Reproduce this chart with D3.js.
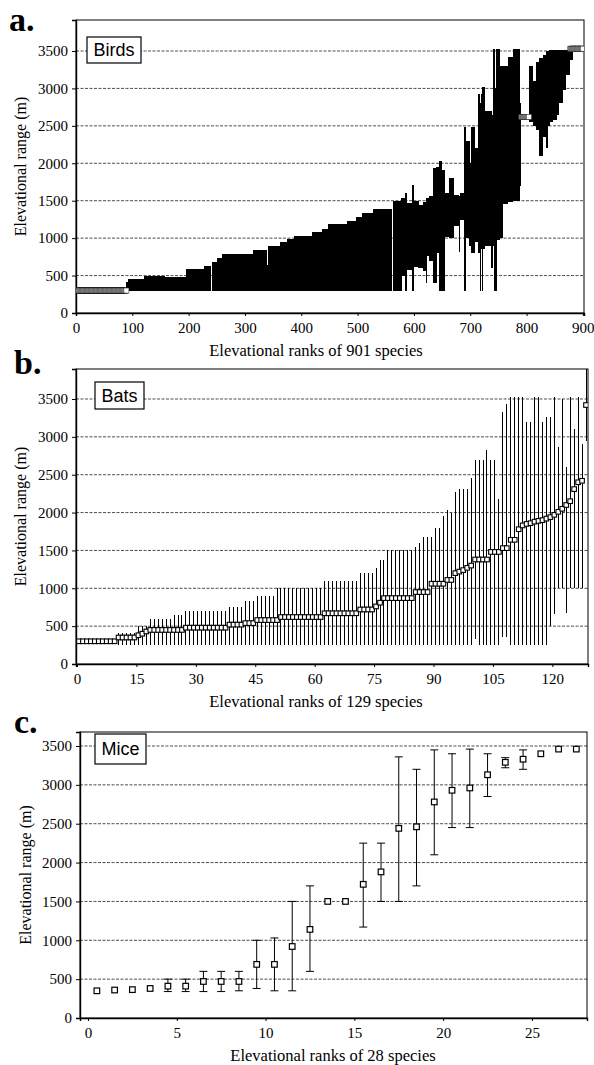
<!DOCTYPE html>
<html>
<head>
<meta charset="utf-8">
<script src="https://cdn.jsdelivr.net/npm/d3@7"></script>
<style>
  body { margin: 0; background: #fff; }
  svg text { font-family: "Liberation Serif", "Times New Roman", serif; }
  svg text.boxlabel { font-family: "Liberation Sans", Arial, sans-serif; }
</style>
</head>
<body>
<svg></svg>
<script>
// shared axis values
const yTicks = [0, 500, 1000, 1500, 2000, 2500, 3000, 3500];
const birdTicks = [0, 100, 200, 300, 400, 500, 600, 700, 800, 900];
const batTicks = [0, 15, 30, 45, 60, 75, 90, 105, 120];
const mouseTicks = [0, 5, 10, 15, 20, 25];

const birdRuns = [
    [91, 92, 300, 420], [93, 121, 290, 450], [122, 157, 290, 500], [158, 196, 290, 480],
    [197, 228, 290, 590], [229, 239, 290, 625], [242, 251, 290, 675], [252, 259, 290, 740],
    [260, 314, 290, 787], [315, 338, 290, 845], [339, 341, 290, 640], [342, 361, 290, 890],
    [364, 375, 290, 942], [376, 388, 290, 990], [389, 418, 290, 1035], [421, 438, 290, 1080],
    [439, 447, 290, 1125], [448, 481, 290, 1185], [482, 496, 290, 1230], [499, 509, 290, 1280],
    [510, 527, 290, 1335], [528, 561, 290, 1390], [564, 578, 290, 1490], [579, 584, 490, 1530],
    [585, 587, 290, 1600], [588, 597, 580, 1470], [598, 600, 290, 1710], [601, 608, 620, 1500],
    [609, 616, 600, 1440], [617, 621, 560, 1480], [622, 623, 400, 1530], [624, 628, 760, 1530],
    [629, 634, 700, 1560], [635, 640, 400, 1940], [641, 645, 800, 1950], [646, 650, 290, 2030],
    [651, 655, 290, 1910], [656, 663, 1020, 1600], [664, 670, 1000, 1800], [671, 680, 1160, 1580],
    [681, 682, 820, 1560], [683, 689, 1240, 1600], [690, 692, 290, 2490], [693, 699, 1000, 2300],
    [700, 702, 900, 2000], [703, 708, 800, 2480], [709, 714, 950, 2200], [715, 717, 800, 2930],
    [718, 719, 290, 2800], [720, 721, 850, 2930], [722, 723, 290, 3020], [724, 726, 850, 3020],
    [727, 738, 890, 2700], [739, 740, 600, 2650], [741, 743, 900, 3530], [744, 747, 290, 3000],
    [748, 752, 980, 3530], [753, 757, 1000, 3300], [758, 767, 1450, 3300], [768, 776, 1480, 3420],
    [777, 788, 1500, 3530], [789, 790, 1700, 2800], [791, 805, 2580, 2660], [806, 811, 2550, 3300],
    [812, 817, 2500, 3100], [818, 823, 2450, 3350], [824, 829, 2100, 3400], [830, 835, 2350, 3450],
    [836, 837, 2200, 3500], [838, 841, 2500, 3500], [842, 847, 2550, 3510], [848, 853, 2580, 3510],
    [854, 858, 2650, 3510], [859, 864, 2800, 3510], [865, 870, 2980, 3510], [871, 876, 3180, 3510],
    [877, 882, 3380, 3520]
];
// birds: where the square markers show [firstRank, lastRank, value]
const birdMarks = [[1, 90, 300], [791, 805, 2620], [878, 901, 3530]];

// bats, 129 species in rank order
const batMean = [
    300, 300, 300, 300, 300, 300, 300, 300, 300, 300,
    350, 350, 350, 350, 350, 380, 400, 430, 450, 450,
    450, 450, 450, 450, 450, 450, 450, 480, 480, 480,
    480, 480, 480, 480, 480, 480, 480, 480, 520, 520,
    520, 520, 540, 540, 540, 580, 580, 580, 580, 580,
    580, 620, 620, 620, 620, 620, 620, 620, 620, 620,
    620, 620, 670, 670, 670, 670, 670, 670, 670, 670,
    670, 720, 720, 720, 720, 760, 810, 870, 870, 870,
    870, 870, 870, 870, 870, 950, 950, 950, 950, 1060,
    1060, 1060, 1060, 1110, 1110, 1200, 1220, 1240, 1270, 1300,
    1380, 1380, 1380, 1380, 1480, 1480, 1480, 1530, 1530, 1640,
    1640, 1780, 1830, 1850, 1860, 1880, 1890, 1900, 1920, 1940,
    1970, 2010, 2050, 2100, 2150, 2310, 2400, 2420, 3420
];
const batLow = [
    300, 300, 300, 300, 300, 300, 300, 300, 300, 300,
    250, 250, 250, 250, 250, 250, 250, 250, 250, 250,
    250, 250, 250, 250, 250, 250, 250, 250, 250, 250,
    250, 250, 250, 250, 250, 250, 250, 250, 250, 250,
    250, 250, 250, 250, 250, 250, 250, 250, 250, 250,
    250, 250, 250, 250, 250, 250, 250, 250, 250, 250,
    250, 250, 250, 250, 250, 250, 250, 250, 250, 250,
    250, 250, 250, 250, 250, 250, 250, 250, 250, 250,
    250, 250, 250, 250, 250, 250, 250, 250, 250, 250,
    250, 250, 250, 250, 250, 250, 250, 250, 250, 250,
    330, 250, 250, 250, 250, 250, 250, 350, 350, 250,
    250, 250, 250, 250, 250, 250, 250, 250, 250, 500,
    660, 1000, 1000, 670, 1000, 1000, 1000, 1000, 2950
];
const batHigh = [
    300, 300, 300, 300, 300, 300, 300, 300, 300, 300,
    410, 410, 410, 410, 410, 500, 500, 500, 600, 600,
    600, 600, 600, 600, 650, 650, 650, 700, 700, 700,
    700, 700, 700, 700, 700, 700, 700, 700, 750, 750,
    750, 750, 830, 830, 830, 900, 900, 900, 900, 900,
    1000, 1000, 1000, 1000, 1000, 1000, 1000, 1000, 1000, 1000,
    1000, 1000, 1100, 1100, 1100, 1100, 1100, 1100, 1100, 1100,
    1100, 1200, 1200, 1200, 1200, 1270, 1380, 1380, 1500, 1500,
    1500, 1500, 1500, 1500, 1500, 1550, 1600, 1680, 1680, 1680,
    1800, 1800, 1950, 2040, 2000, 2270, 2310, 2310, 2310, 2460,
    2700, 2700, 2700, 2820, 2700, 2700, 2180, 3330, 3430, 3530,
    3530, 3530, 3530, 3200, 3200, 3530, 3530, 3200, 3260, 3260,
    3530, 2870, 3500, 2600, 3530, 3100, 3530, 2900, 3900
];

// mice, 28 species in rank order
const mouseMean = [350, 360, 365, 380, 410, 410, 470, 470, 470, 690, 690, 920, 1140, 1500,
    1500, 1720, 1880, 2440, 2460, 2780, 2930, 2960, 3130, 3290, 3330, 3400, 3460, 3460];
const mouseLow = [350, 360, 365, 380, 340, 340, 340, 340, 350, 380, 350, 350, 600, 1500,
    1500, 1170, 1500, 1500, 1700, 2100, 2450, 2450, 2850, 3220, 3200, 3400, 3460, 3460];
const mouseHigh = [350, 360, 365, 380, 500, 500, 600, 600, 600, 1000, 1030, 1500, 1700, 1500,
    1500, 2250, 2250, 3360, 3200, 3450, 3400, 3460, 3400, 3350, 3450, 3400, 3460, 3460];

const svg = d3.select("svg").attr("width", 594).attr("height", 1065);
svg.append("rect").attr("width", 594).attr("height", 1065).attr("fill", "#fff");

function panel(p) {
    const x = d3.scaleLinear().domain(p.xDomain).range([p.left, p.right]);
    const y = d3.scaleLinear().domain([0, p.yMax]).range([p.bottom, p.top]).clamp(true);
    const g = svg.append("g");

    g.selectAll(".grid")
        .data(yTicks.filter(d => d > 0))
        .enter().append("line")
        .attr("x1", p.left).attr("x2", p.right)
        .attr("y1", d => y(d)).attr("y2", d => y(d))
        .attr("stroke", "#222").attr("stroke-width", 0.8).attr("stroke-dasharray", "3,1.5");

    g.append("rect")
        .attr("x", p.left).attr("y", p.top)
        .attr("width", p.right - p.left).attr("height", p.bottom - p.top)
        .attr("fill", "none").attr("stroke", "#000").attr("stroke-width", 1);

    const yAxis = g.append("g").attr("transform", `translate(${p.left},0)`)
        .call(d3.axisLeft(y).tickValues(yTicks).tickSize(4).tickPadding(4).tickFormat(d3.format("d")));
    const xAxis = g.append("g").attr("transform", `translate(0,${p.bottom})`)
        .call(d3.axisBottom(x).tickValues(p.ticks).tickSize(3).tickPadding(6).tickFormat(d3.format("d")));
    [yAxis, xAxis].forEach(a => {
        a.attr("font-family", null);
        a.select(".domain").attr("stroke-width", 1.4);
        a.selectAll("text").attr("font-size", 15).attr("fill", "#000");
    });

    g.append("text")
        .attr("transform", `translate(${p.yTitleX},${(p.top + p.bottom) / 2}) rotate(-90)`)
        .attr("text-anchor", "middle").attr("dy", "0.35em")
        .attr("font-size", 16)
        .text("Elevational range (m)");
    g.append("text")
        .attr("x", p.xTitleX).attr("y", p.xTitleY)
        .attr("text-anchor", "middle")
        .attr("font-size", 16.5)
        .text(p.xTitle);
    g.append("text")
        .attr("x", p.letterX).attr("y", p.letterY)
        .attr("font-size", 34).attr("font-weight", "bold")
        .text(p.letter);

    const clipId = "clip-" + p.letter[0];
    svg.append("clipPath").attr("id", clipId).append("rect")
        .attr("x", p.left).attr("y", p.top)
        .attr("width", p.right - p.left).attr("height", p.bottom - p.top);
    const plot = g.append("g").attr("clip-path", `url(#${clipId})`);

    return { g, plot, x, y, p };
}

function nameBox(pn) {
    const b = pn.p.box;
    pn.g.append("rect")
        .attr("x", b.x).attr("y", b.y).attr("width", b.w).attr("height", b.h)
        .attr("fill", "#fff").attr("stroke", "#000").attr("stroke-width", 1.2);
    pn.g.append("text")
        .attr("class", "boxlabel")
        .attr("x", b.x + b.w / 2).attr("y", b.y + b.h / 2)
        .attr("dy", "0.36em").attr("text-anchor", "middle")
        .attr("font-size", 18)
        .text(b.label);
}

// a. Birds
const pa = panel({
    left: 76, right: 584, top: 20, bottom: 313, xDomain: [0, 902], yMax: 3914,
    ticks: birdTicks, xTitle: "Elevational ranks of 901 species", xTitleX: 316, xTitleY: 356,
    yTitleX: 20, letter: "a.", letterX: 9, letterY: 31,
    box: { x: 87, y: 37, w: 54, h: 26, label: "Birds" }
});
const birdBars = [];
birdRuns.forEach(([a, b, low, high]) => {
    d3.range(a, b + 1).forEach(r => birdBars.push({ r, low, high }));
});
pa.plot.selectAll(".bird").data(birdBars).enter().append("line")
    .attr("x1", d => pa.x(d.r - 0.5)).attr("x2", d => pa.x(d.r - 0.5))
    .attr("y1", d => pa.y(d.low)).attr("y2", d => pa.y(d.high))
    .attr("stroke", "#000").attr("stroke-width", 1)
    .attr("shape-rendering", "crispEdges");
const birdDots = [];
birdMarks.forEach(([a, b, v]) => {
    d3.range(a, b + 1).forEach(r => birdDots.push({ r, v }));
});
pa.plot.selectAll(".bmark").data(birdDots).enter().append("rect")
    .attr("x", d => pa.x(d.r - 0.5) - 2.5).attr("y", d => pa.y(d.v) - 2.5)
    .attr("width", 5).attr("height", 5)
    .attr("fill", "#fff").attr("stroke", "#000").attr("stroke-opacity", 0.6).attr("stroke-width", 0.7);
nameBox(pa);

// b. Bats
const pb = panel({
    left: 76, right: 588, top: 369, bottom: 664, xDomain: [-0.25, 129], yMax: 3896,
    ticks: batTicks, xTitle: "Elevational ranks of 129 species", xTitleX: 316, xTitleY: 707,
    yTitleX: 20, letter: "b.", letterX: 14, letterY: 374,
    box: { x: 95, y: 382, w: 49, h: 27, label: "Bats" }
});
const bats = batMean.map((m, i) => ({ r: i + 0.5, mean: m, low: batLow[i], high: batHigh[i] }));
pb.plot.selectAll(".bat").data(bats.filter(d => d.high > d.low)).enter().append("line")
    .attr("x1", d => pb.x(d.r)).attr("x2", d => pb.x(d.r))
    .attr("y1", d => pb.y(d.low)).attr("y2", d => pb.y(d.high))
    .attr("stroke", "#000").attr("stroke-width", 1)
    .attr("shape-rendering", "crispEdges");
pb.plot.selectAll(".batmark").data(bats).enter().append("rect")
    .attr("x", d => pb.x(d.r) - 2.3).attr("y", d => pb.y(d.mean) - 2.3)
    .attr("width", 4.6).attr("height", 4.6)
    .attr("fill", "#fff").attr("stroke", "#000").attr("stroke-width", 1.1);
nameBox(pb);

// c. Mice
const pc = panel({
    left: 80, right: 587, top: 732, bottom: 1018, xDomain: [-0.45, 28.1], yMax: 3680,
    ticks: mouseTicks, xTitle: "Elevational ranks of 28 species", xTitleX: 333, xTitleY: 1061,
    yTitleX: 25, letter: "c.", letterX: 14, letterY: 733,
    box: { x: 95, y: 734, w: 51, h: 30, label: "Mice" }
});
const mice = mouseMean.map((m, i) => ({ r: i + 0.5, mean: m, low: mouseLow[i], high: mouseHigh[i] }));
const withBars = mice.filter(d => d.high > d.low);
pc.plot.selectAll(".mouse").data(withBars).enter().append("line")
    .attr("x1", d => pc.x(d.r)).attr("x2", d => pc.x(d.r))
    .attr("y1", d => pc.y(d.low)).attr("y2", d => pc.y(d.high))
    .attr("stroke", "#000").attr("stroke-width", 1);
["low", "high"].forEach(k => {
    pc.plot.selectAll(".cap-" + k).data(withBars).enter().append("line")
        .attr("x1", d => pc.x(d.r) - 4).attr("x2", d => pc.x(d.r) + 4)
        .attr("y1", d => pc.y(d[k])).attr("y2", d => pc.y(d[k]))
        .attr("stroke", "#000").attr("stroke-width", 1);
});
pc.plot.selectAll(".mmark").data(mice).enter().append("rect")
    .attr("x", d => pc.x(d.r) - 2.8).attr("y", d => pc.y(d.mean) - 2.8)
    .attr("width", 5.6).attr("height", 5.6)
    .attr("fill", "#fff").attr("stroke", "#000").attr("stroke-width", 1.2);
nameBox(pc);
</script>
</body>
</html>
